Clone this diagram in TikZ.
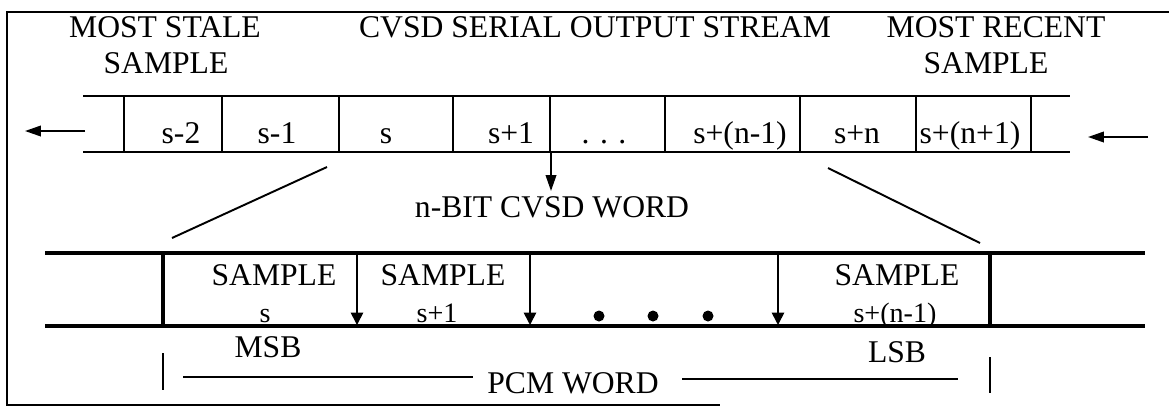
\documentclass[tikz,border=0pt]{standalone}
\usepackage{fontspec}
\setmainfont{Liberation Serif}
\usetikzlibrary{arrows.meta}
\begin{document}
\begin{tikzpicture}[x=0.02cm,y=-0.02cm,
  lbl/.style={anchor=base,inner sep=0pt,font=\fontsize{18}{20}\selectfont},
  sml/.style={anchor=base,inner sep=0pt,font=\fontsize{16}{18}\selectfont},
  thinline/.style={line width=1.1pt},
  bandline/.style={line width=2.6pt},
  arr/.style={line width=1pt,-{Triangle[length=9pt,width=6pt]}},
  smallarr/.style={line width=0.9pt,-{Triangle[length=7pt,width=7pt]}},
]
\useasboundingbox (0,0) rectangle (1169,407);
% frame
\draw[line width=1.2pt] (1169,12) -- (7,12) -- (7,405) -- (720,405);

% header texts
\node[lbl] (stale1) at (165,37) {MOST STALE};
\node[lbl] (stale2) at (166,73) {SAMPLE};
\node[lbl] (title) at (595,37) {CVSD SERIAL OUTPUT STREAM};
\node[lbl] (recent1) at (996,37) {MOST RECENT};
\node[lbl] (recent2) at (986,73) {SAMPLE};

% serial stream
\draw[thinline] (83,96) -- (1070,96);
\draw[thinline] (83,152) -- (1070,152);
\foreach \x in {124,222,339,453,550,665,800,916,1031}
  \draw[thinline] (\x,96) -- (\x,152);
\node[lbl] (c1) at (181,143) {s-2};
\node[lbl] (c2) at (277,143) {s-1};
\node[lbl] (c3) at (386,143) {s};
\node[lbl] (c4) at (511,143) {s+1};
\node[lbl] (c5) at (604,143) {. . .};
\node[lbl] (c6) at (740,143) {s+(n-1)};
\node[lbl] (c7) at (857,143) {s+n};
\node[lbl] (c8) at (970,143) {s+(n+1)};

% in/out arrows
\coordinate (la1) at (85,131);
\coordinate (la2) at (25,131);
\coordinate (ra1) at (1148,137);
\coordinate (ra2) at (1088,137);
\draw[arr] (la1) -- (la2);
\draw[arr] (ra1) -- (ra2);

% word arrow
\node[lbl] (word) at (552,217) {n-BIT CVSD WORD};
\coordinate (wa1) at (551,152);
\coordinate (wa2) at (551,191);
\draw[arr] (wa1) -- (wa2);

% expansion lines
\coordinate (e1) at (327,167);
\coordinate (e2) at (172,238);
\coordinate (e3) at (828,168);
\coordinate (e4) at (980,243);
\draw[thinline] (e1) -- (e2);
\draw[thinline] (e3) -- (e4);

% PCM band
\draw[bandline] (45,253) -- (1145,253);
\draw[bandline] (45,326) -- (1145,326);
\draw[bandline] (163,253) -- (163,326);
\draw[bandline] (990,253) -- (990,326);
\foreach \x/\n in {357/p1,530/p2,778/p3} {
  \coordinate (\n t) at (\x,254);
  \coordinate (\n b) at (\x,325);
  \draw[smallarr] (\n t) -- (\n b);
}
\node[lbl] (sa1) at (274,285) {SAMPLE};
\node[sml] (sb1) at (265,322) {s};
\node[lbl] (sa2) at (443,285) {SAMPLE};
\node[sml] (sb2) at (437,322) {s+1};
\node[lbl] (sa3) at (897,285) {SAMPLE};
\node[sml] (sb3) at (895,322) {s+(n-1)};
\foreach \x/\n in {599/d1,653/d2,708/d3}
  \fill (\x,316) circle (5.5);

\node[lbl] (msb) at (268,357) {MSB};
\node[lbl] (lsb) at (897,362) {LSB};

% PCM word span
\coordinate (t1a) at (163,353);
\coordinate (t1b) at (163,390);
\coordinate (t2a) at (990,357);
\coordinate (t2b) at (990,393);
\draw[thinline] (t1a) -- (t1b);
\draw[thinline] (t2a) -- (t2b);
\node[lbl] (pcm) at (573,393) {PCM WORD};
\coordinate (pl1) at (183,377);
\coordinate (pl2) at (473,377);
\coordinate (pl3) at (682,379);
\coordinate (pl4) at (958,379);
\draw[thinline] (pl1) -- (pl2);
\draw[thinline] (pl3) -- (pl4);
\end{tikzpicture}
\end{document}
